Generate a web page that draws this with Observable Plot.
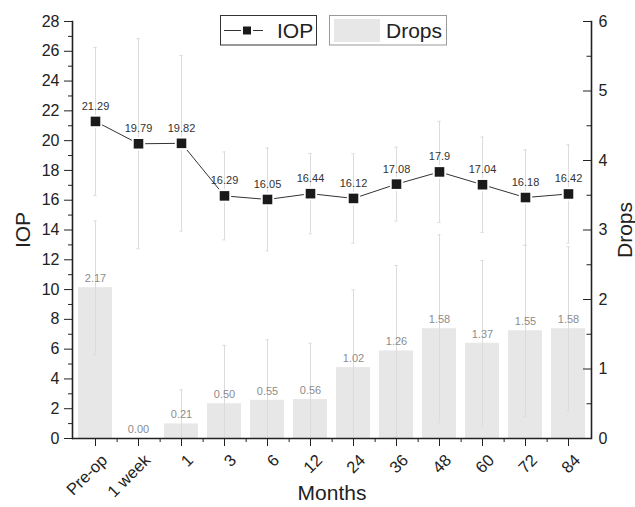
<!DOCTYPE html>
<html><head><meta charset="utf-8">
<script src="https://cdn.jsdelivr.net/npm/d3@7"></script>
<script src="https://cdn.jsdelivr.net/npm/@observablehq/plot@0.6"></script>
<style>body{margin:0;background:#fff}</style>
</head><body><div id="chart"></div>
<script>
const months = ["Pre-op","1 week","1","3","6","12","24","36","48","60","72","84"];
const iop = [21.29,19.79,19.82,16.29,16.05,16.44,16.12,17.08,17.9,17.04,16.18,16.42];
const iopSD = [4.97,7.05,5.9,2.95,3.45,2.7,3.0,2.48,3.4,3.2,3.2,3.3];
const drops = [2.17,0.00,0.21,0.50,0.55,0.56,1.02,1.26,1.58,1.37,1.55,1.58];
const dropsSD = [0.96,0,0.49,0.84,0.87,0.81,1.12,1.23,1.35,1.19,1.23,1.18];
const iopTicks = d3.range(0, 29, 2);
const iopMinor = d3.range(1, 28, 2);
const dropsTicks = [0,1,2,3,4,5,6];
const dropsMinor = [0.5,1.5,2.5,3.5,4.5,5.5];

const W = 635, H = 507, mL = 72, mR = 44, mT = 21, mB = 69;
const frameW = W - mL - mR;
const k = 28 / 6; // drops axis (0-6) mapped onto IOP axis (0-28)
const data = months.map((m, i) => ({m, iop: iop[i], iopSD: iopSD[i], drops: drops[i], dropsSD: dropsSD[i]}));
const dErr = data.filter(d => d.dropsSD > 0);
const errColor = "#dcdcdc";
const capInset = 15.3;
const axisColor = "#222";

const chart = Plot.plot({
  width: W, height: H,
  marginLeft: mL, marginRight: mR, marginTop: mT, marginBottom: mB,
  style: {fontFamily: "'Liberation Sans', Arial, sans-serif", background: "white", color: axisColor},
  x: {domain: months, paddingInner: 0.2, paddingOuter: 0.1, label: null},
  y: {domain: [0, 28], label: null},
  marks: [
    Plot.barY(data, {x: "m", y: d => d.drops * k, fill: "#e7e7e7"}),
    Plot.ruleX(dErr, {x: "m", y1: d => Math.max(0, d.drops - d.dropsSD) * k, y2: d => (d.drops + d.dropsSD) * k, stroke: errColor, strokeWidth: 1}),
    Plot.tickY(dErr, {x: "m", y: d => (d.drops + d.dropsSD) * k, stroke: errColor, insetLeft: capInset, insetRight: capInset}),
    Plot.tickY(dErr.filter(d => d.drops - d.dropsSD > 0), {x: "m", y: d => (d.drops - d.dropsSD) * k, stroke: errColor, insetLeft: capInset, insetRight: capInset}),
    Plot.text(data, {x: "m", y: d => d.drops * k, text: d => d.drops.toFixed(2), dy: -9, fontSize: 11, fill: "#8c8c8c"}),
    Plot.ruleX(data, {x: "m", y1: d => d.iop - d.iopSD, y2: d => d.iop + d.iopSD, stroke: errColor, strokeWidth: 1}),
    Plot.tickY(data, {x: "m", y: d => d.iop + d.iopSD, stroke: errColor, insetLeft: capInset, insetRight: capInset}),
    Plot.tickY(data, {x: "m", y: d => d.iop - d.iopSD, stroke: errColor, insetLeft: capInset, insetRight: capInset}),
    Plot.line(data, {x: "m", y: "iop", stroke: "#333", strokeWidth: 1}),
    Plot.dot(data, {x: "m", y: "iop", symbol: "square", r: 7.5, fill: "white"}),
    Plot.dot(data, {x: "m", y: "iop", symbol: "square", r: 5.4, fill: "#1a1a1a"}),
    Plot.text(data, {x: "m", y: "iop", text: d => String(d.iop), dy: -15, fontSize: 11, fill: "#333"}),
    // left axis
    Plot.axisY({ticks: iopTicks, tickSize: 8, tickPadding: 5, fontSize: 16, label: null}),
    Plot.axisY({ticks: iopMinor, tickSize: 4, tickFormat: () => "", label: null}),
    // right axis (ticks point inward)
    Plot.tickY(dropsTicks, {y: d => d * k, stroke: axisColor, insetLeft: frameW - 8}),
    Plot.tickY(dropsMinor, {y: d => d * k, stroke: axisColor, insetLeft: frameW - 4.5}),
    Plot.axisY({anchor: "right", ticks: dropsTicks.map(d => d * k), tickFormat: d => Math.round(d / k), tickSize: 0, tickPadding: 7, fontSize: 16, label: null}),
    // bottom axis
    Plot.axisX({tickSize: 8, tickFormat: () => "", label: null}),
    Plot.axisX({tickSize: 0, tickRotate: -45, tickPadding: 19, dx: 9, fontSize: 16.5, label: null}),
    Plot.axisX({ticks: months.slice(0, -1), tickSize: 4, tickFormat: () => "", dx: frameW / 12 / 2, label: null}),
    Plot.frame({anchor: "left", stroke: axisColor, strokeWidth: 1.6}),
    Plot.frame({anchor: "right", stroke: axisColor, strokeWidth: 1.6}),
    Plot.ruleY([0], {stroke: axisColor, strokeWidth: 1.6}),
    // axis titles
    Plot.text(["IOP"], {frameAnchor: "left", textAnchor: "middle", dx: -49, rotate: -90, fontSize: 21, fill: axisColor}),
    Plot.text(["Drops"], {frameAnchor: "right", textAnchor: "middle", dx: 34, rotate: -90, fontSize: 21, fill: axisColor}),
    Plot.text(["Months"], {frameAnchor: "bottom", textAnchor: "middle", dy: 61, fontSize: 21, fill: axisColor})
  ]
});

// legend
const svg = d3.select(chart);
const lg = svg.append("g").attr("font-family", "'Liberation Sans', Arial, sans-serif").attr("text-anchor", "start");
lg.append("rect").attr("x", 220.5).attr("y", 15.5).attr("width", 96).attr("height", 29.5).attr("fill", "white").attr("stroke", "#333");
lg.append("line").attr("x1", 224).attr("x2", 241).attr("y1", 30.5).attr("y2", 30.5).attr("stroke", "#333");
lg.append("line").attr("x1", 253).attr("x2", 263).attr("y1", 30.5).attr("y2", 30.5).attr("stroke", "#333");
lg.append("rect").attr("x", 243).attr("y", 26.5).attr("width", 8).attr("height", 8).attr("fill", "#1a1a1a");
lg.append("text").attr("x", 277).attr("y", 38.3).attr("font-size", 21).attr("fill", axisColor).text("IOP");
lg.append("rect").attr("x", 329.5).attr("y", 15.5).attr("width", 117).attr("height", 29.5).attr("fill", "white").attr("stroke", "#999");
lg.append("rect").attr("x", 334).attr("y", 19).attr("width", 46).attr("height", 23).attr("fill", "#e7e7e7");
lg.append("text").attr("x", 386).attr("y", 38.3).attr("font-size", 21).attr("fill", axisColor).text("Drops");

document.getElementById("chart").append(chart);
</script>
</body></html>
